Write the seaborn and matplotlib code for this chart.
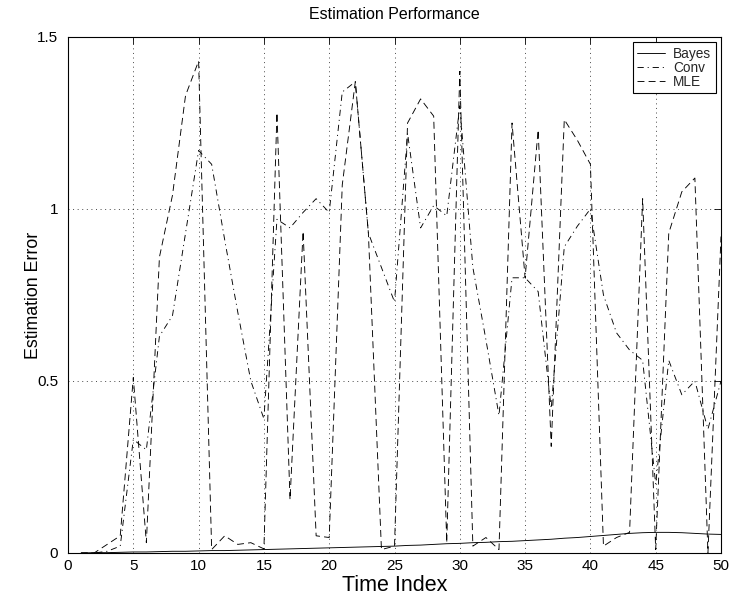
import matplotlib
matplotlib.use("Agg")
import matplotlib.pyplot as plt
import numpy as np
import pandas as pd
import seaborn as sns

# ---------------- data ----------------
time_index = list(range(1, 51))

bayes = [0.000, 0.001, 0.001, 0.002, 0.003, 0.003, 0.004, 0.005, 0.005, 0.006,
         0.007, 0.007, 0.008, 0.009, 0.010, 0.011, 0.012, 0.013, 0.014, 0.015,
         0.016, 0.017, 0.018, 0.019, 0.020, 0.022, 0.023, 0.025, 0.027, 0.028,
         0.030, 0.031, 0.033, 0.034, 0.036, 0.038, 0.040, 0.043, 0.045, 0.048,
         0.051, 0.054, 0.057, 0.059, 0.060, 0.060, 0.059, 0.057, 0.055, 0.054]

conv = [0.00, 0.00, 0.005, 0.02, 0.33, 0.30, 0.63, 0.69, 0.93, 1.17,
        1.13, 0.91, 0.70, 0.50, 0.39, 0.97, 0.945, 0.99, 1.03, 0.99,
        1.34, 1.37, 0.93, 0.83, 0.73, 1.22, 0.945, 1.01, 0.98, 1.30,
        0.83, 0.62, 0.40, 0.80, 0.80, 0.76, 0.42, 0.89, 0.95, 1.00,
        0.75, 0.64, 0.59, 0.56, 0.20, 0.56, 0.46, 0.50, 0.36, 0.50]

mle = [0.00, 0.00, 0.025, 0.05, 0.51, 0.03, 0.86, 1.04, 1.33, 1.43,
       0.01, 0.05, 0.025, 0.03, 0.012, 1.28, 0.155, 0.935, 0.05, 0.045,
       1.07, 1.37, 0.93, 0.01, 0.02, 1.25, 1.32, 1.27, 0.03, 1.40,
       0.02, 0.045, 0.01, 1.25, 0.80, 1.23, 0.31, 1.26, 1.20, 1.13,
       0.02, 0.045, 0.06, 1.03, 0.01, 0.93, 1.05, 1.09, 0.00, 0.92]

methods = ["Bayes", "Conv", "MLE"]
x_ticks = [0, 5, 10, 15, 20, 25, 30, 35, 40, 45, 50]
y_ticks = [0, 0.5, 1.0, 1.5]
y_tick_labels = ["0", "0.5", "1", "1.5"]

title_text = "Estimation Performance"
x_label = "Time Index"
y_label = "Estimation Error"

# ---------------- style ----------------
sns.set_theme(style="white")
plt.rcParams["font.family"] = ["Liberation Sans", "DejaVu Sans"]
plt.rcParams["lines.scale_dashes"] = False

df = pd.DataFrame({
    "t": time_index * 3,
    "err": bayes + conv + mle,
    "method": [m for m in methods for _ in time_index],
})

W, H = 731, 598
fig = plt.figure(figsize=(W / 100, H / 100), dpi=100)
fig.patch.set_facecolor("white")
ax = fig.add_axes([68 / W, 1 - 553 / H, (721 - 68) / W, (553 - 37) / H])
ax.set_facecolor("white")

sns.lineplot(data=df, x="t", y="err", style="method", style_order=methods,
             dashes={"Bayes": "", "Conv": (4.5, 2.8, 0.8, 2.8), "MLE": (5.0, 3.0)},
             color="black", linewidth=0.65, estimator=None, sort=False,
             ax=ax, legend="brief")

ax.set_xlim(0, 50)
ax.set_ylim(0, 1.5)
ax.set_xticks(x_ticks)
ax.set_xticklabels([str(v) for v in x_ticks])
ax.set_yticks(y_ticks)
ax.set_yticklabels(y_tick_labels)

ax.grid(True, color="black", linestyle=(0, (0.7, 2.6)), linewidth=0.5)
ax.set_axisbelow(True)

for s in ax.spines.values():
    s.set_visible(True)
    s.set_color("black")
    s.set_linewidth(0.8)

ax.tick_params(axis="both", direction="in", top=True, right=True, length=5,
               width=0.6, colors="black", labelsize=11)
ax.tick_params(axis="x", pad=4.5)
ax.tick_params(axis="y", pad=7)

ax.set_title(title_text, fontsize=11.5, pad=13, color="black")
ax.set_xlabel(x_label, fontsize=15.5, labelpad=1.5, color="black")
ax.set_ylabel(y_label, fontsize=12.8, color="black")
ax.yaxis.set_label_coords(-0.04, 0.5)

handles, labels = ax.get_legend_handles_labels()
leg = ax.legend(handles, labels, loc="upper right", fontsize=9.8,
                frameon=True, fancybox=False, edgecolor="black",
                framealpha=1, handlelength=2.05, handletextpad=0.6,
                labelspacing=0.0, borderpad=0.3, borderaxespad=0.4)
leg.get_frame().set_linewidth(0.8)

fig.savefig("out.png", dpi=100, facecolor="white")
